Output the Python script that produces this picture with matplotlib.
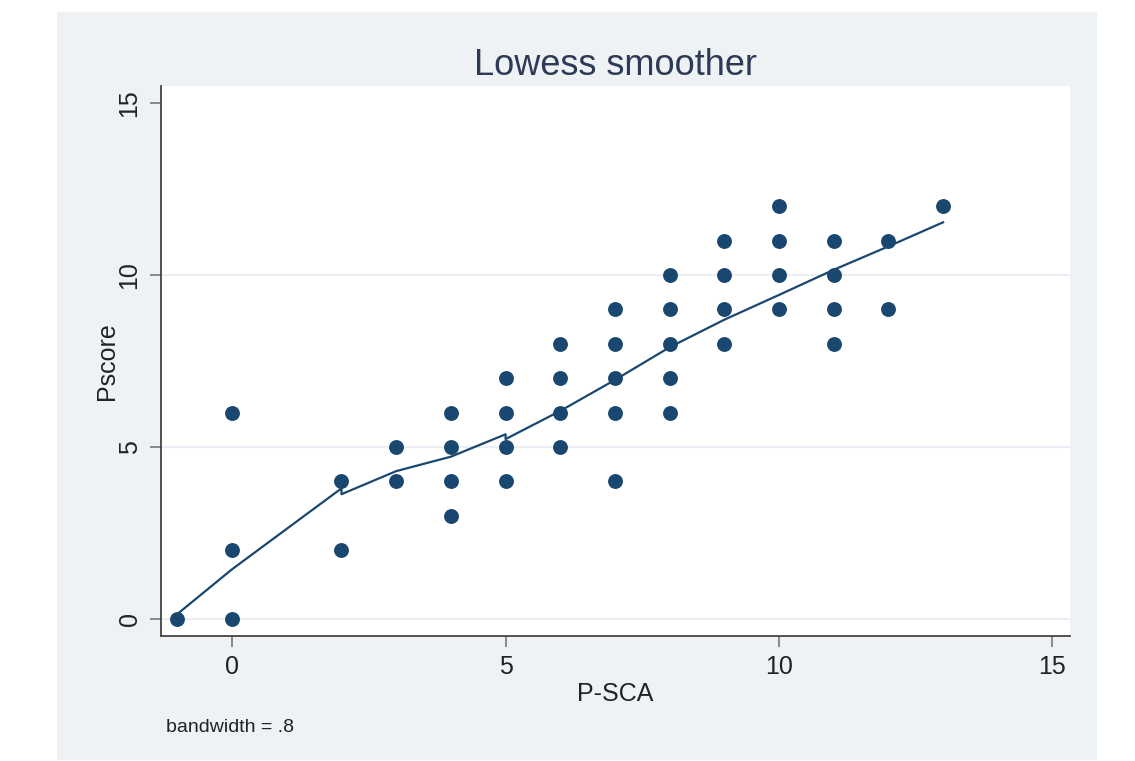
import matplotlib.pyplot as plt
from matplotlib.patches import Rectangle

plt.rcParams['font.family'] = ['Liberation Sans', 'DejaVu Sans']

# scatter data (P-SCA vs Pscore)
psca = [-1, 0, 0, 0, 2, 2, 3, 3, 4, 4, 4, 4, 5, 5, 5, 5, 6, 6, 6, 6,
        7, 7, 7, 7, 7, 8, 8, 8, 8, 8, 9, 9, 9, 9, 10, 10, 10, 10,
        11, 11, 11, 11, 12, 12, 13]
pscore = [0, 6, 2, 0, 4, 2, 5, 4, 6, 5, 4, 3, 7, 6, 5, 4, 8, 7, 6, 5,
          9, 8, 7, 6, 4, 10, 9, 8, 7, 6, 11, 10, 9, 8, 12, 11, 10, 9,
          11, 10, 9, 8, 11, 9, 12]

# lowess curve
lowess_x = [-1, 0, 2, 2, 3, 4, 5, 5, 6, 7, 8, 9, 10, 11, 12, 13]
lowess_y = [0.15, 1.45, 3.8, 3.63, 4.3, 4.72, 5.37, 5.23, 6.05, 6.95,
            7.9, 8.7, 9.42, 10.15, 10.83, 11.53]

xticks = [0, 5, 10, 15]
yticks = [0, 5, 10, 15]

navy = "#1a476f"
panel = "#eef2f5"

fig = plt.figure(figsize=(11.35, 7.61), dpi=100)
fig.patch.set_facecolor("white")
bg = Rectangle((57 / 1135, 1 - 760 / 761), 1040 / 1135, 748 / 761,
               transform=fig.transFigure, facecolor=panel,
               edgecolor="none", zorder=-10)
fig.add_artist(bg)

ax = fig.add_axes([161 / 1135, 1 - 636 / 761, 909 / 1135, 550 / 761])
ax.set_zorder(1)
ax.set_facecolor("white")

for yt in yticks[:-1]:
    ax.axhline(yt, color="#e9eff4", lw=1.5, zorder=1)

ax.scatter(psca, pscore, s=115, color=navy, zorder=3, linewidths=0)
ax.plot(lowess_x, lowess_y, color=navy, lw=1.6, zorder=4)

ax.set_xlim(-1.30, 15.32)
ax.set_ylim(-0.49, 15.49)
ax.set_xticks(xticks)
ax.set_yticks(yticks)
ax.tick_params(axis="both", length=8, width=1.2, color="#777777",
               labelsize=18, labelcolor="#222222", pad=6)
for lab in ax.get_yticklabels():
    lab.set_rotation(90)
    lab.set_va("center")

for side in ["top", "right"]:
    ax.spines[side].set_visible(False)
for side in ["left", "bottom"]:
    ax.spines[side].set_color("#444444")
    ax.spines[side].set_linewidth(1.3)

ax.set_xlabel("P-SCA", fontsize=18, color="#222222", labelpad=2)
ax.set_ylabel("Pscore", fontsize=18, color="#222222", labelpad=-1)
ax.set_title("Lowess smoother", fontsize=26, color="#2c3a56", pad=8)

fig.text(166 / 1135, 1 - 727 / 761, "bandwidth = .8", fontsize=14,
         color="#222222", va="center", ha="left")

fig.savefig("out.png", dpi=100)
